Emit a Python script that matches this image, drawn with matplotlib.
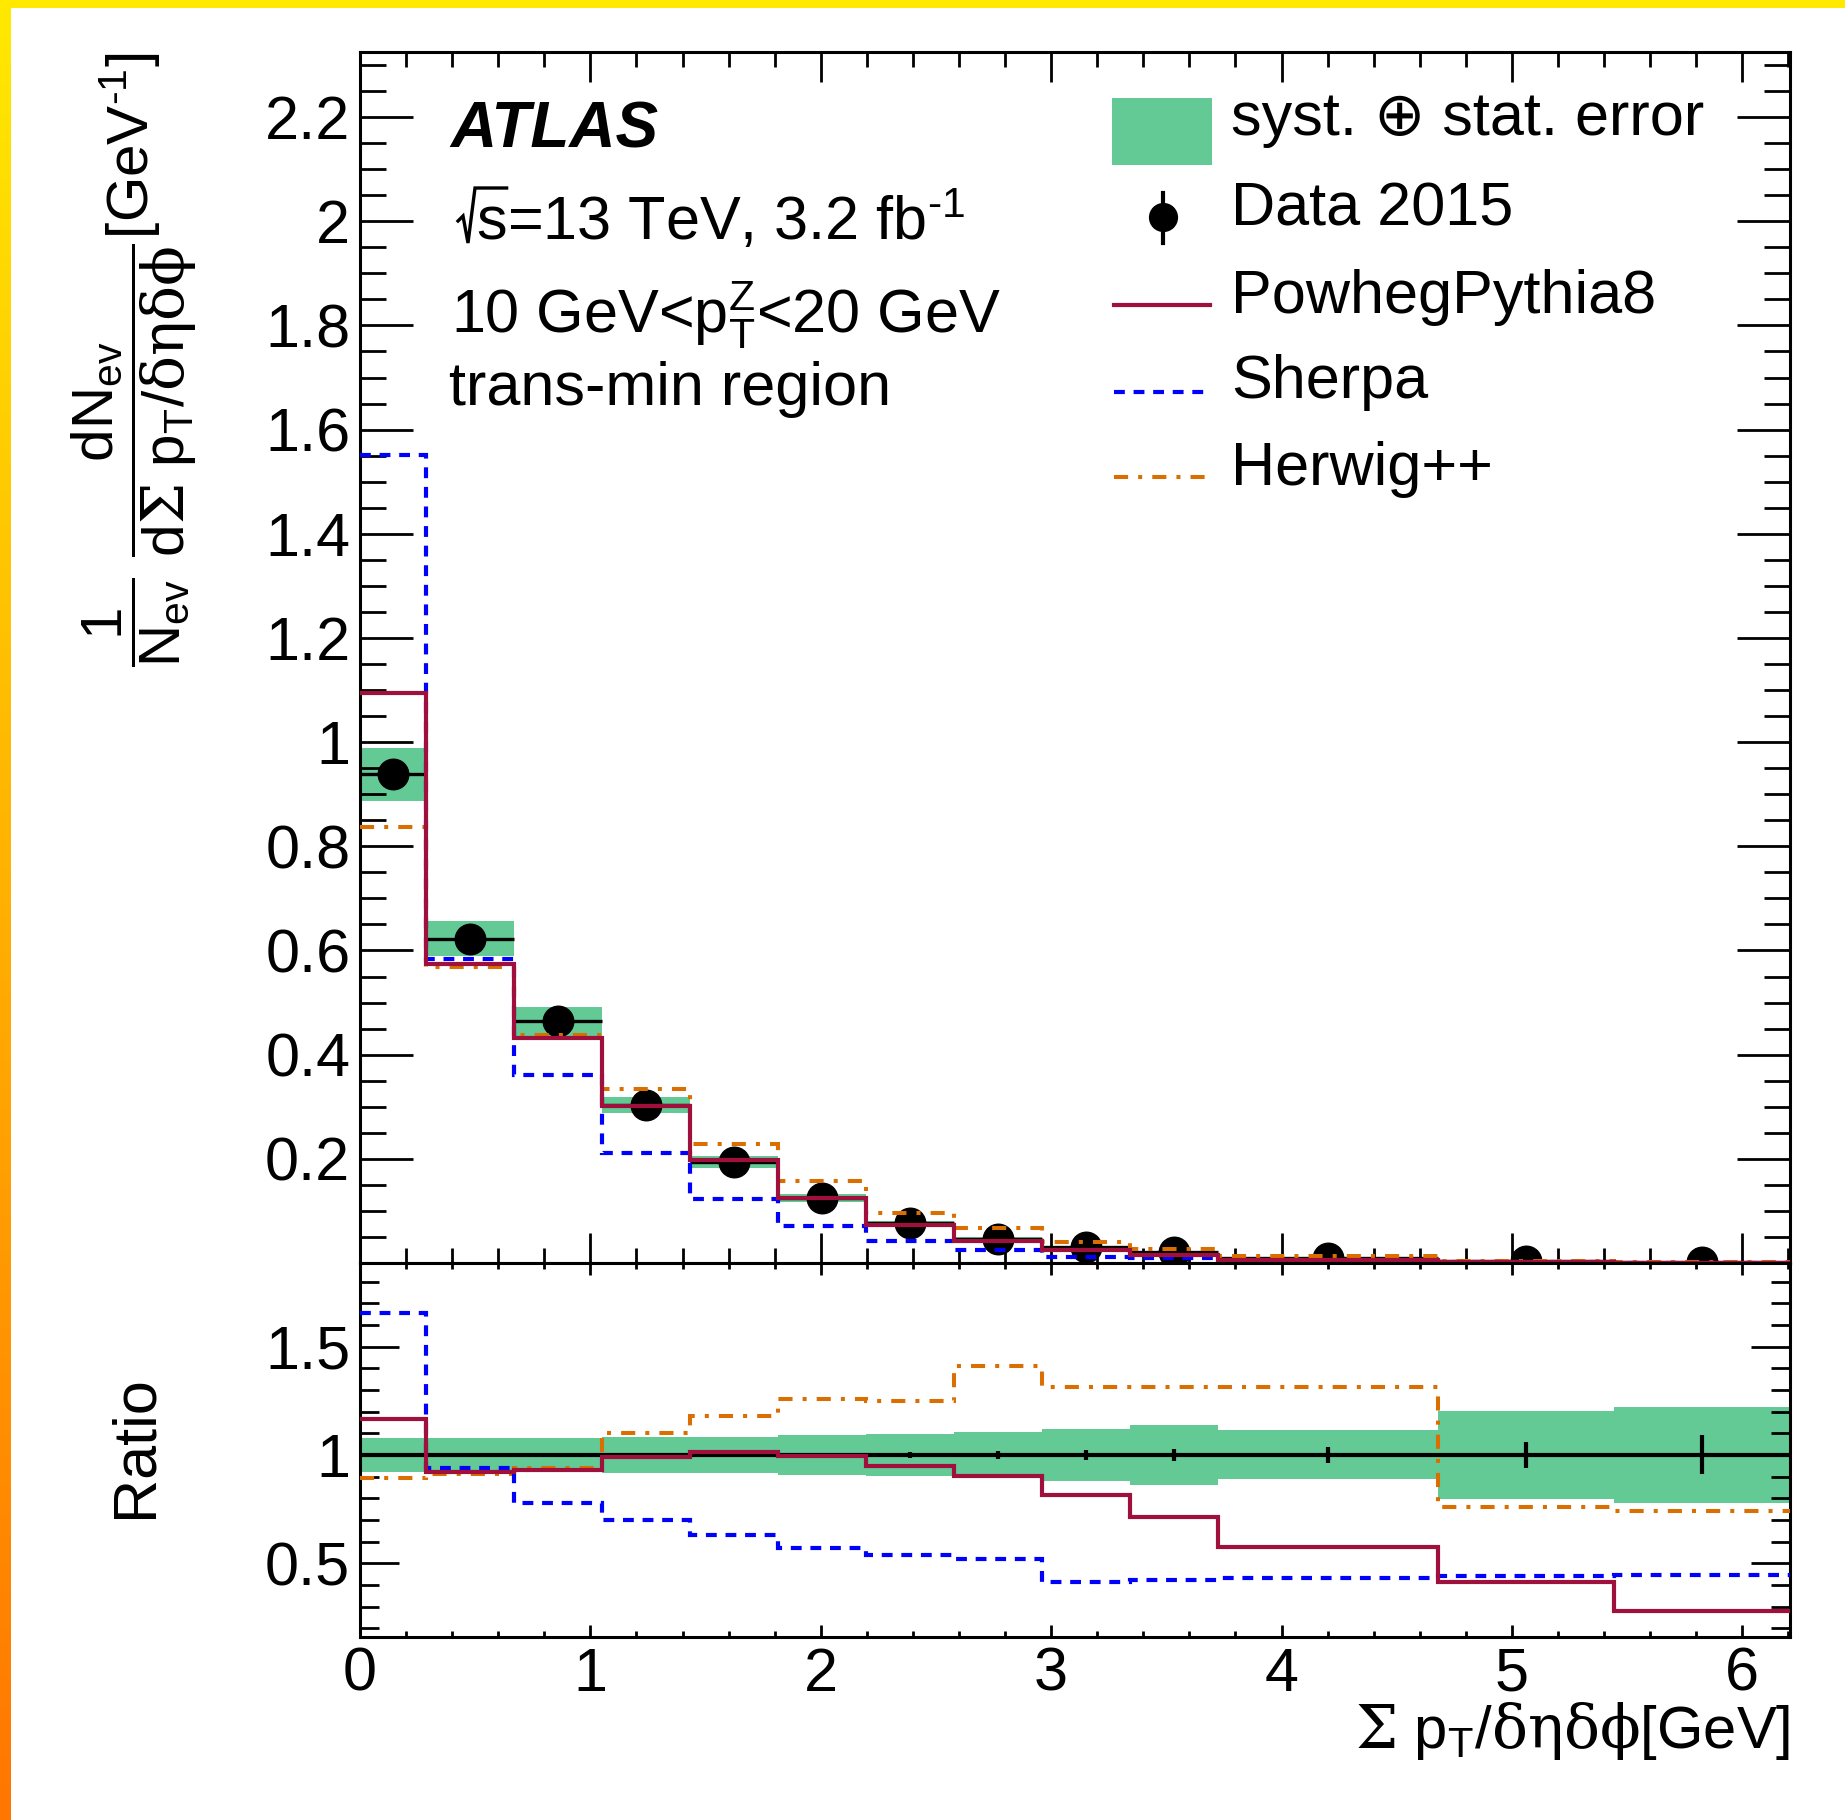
import numpy as np
import matplotlib
matplotlib.use("Agg")
import matplotlib.pyplot as plt
from matplotlib.patches import Rectangle
from matplotlib.lines import Line2D
from matplotlib.ticker import MultipleLocator, FuncFormatter

plt.rcParams["font.family"] = ["Liberation Sans", "DejaVu Sans"]
plt.rcParams["mathtext.fontset"] = "custom"
plt.rcParams["mathtext.rm"] = "Liberation Sans"
plt.rcParams["mathtext.it"] = "Liberation Sans:italic"
plt.rcParams["mathtext.bf"] = "Liberation Sans:bold"
plt.rcParams["mathtext.sf"] = "DejaVu Serif"   # Greek symbols in a serif face
plt.rcParams["mathtext.default"] = "regular"

# Sum pT / (deta dphi) bin edges [GeV]
bin_edges = [0.0, 0.286, 0.668, 1.050, 1.432, 1.814, 2.196, 2.578,
             2.960, 3.342, 3.724, 4.679, 5.443, 6.207]

# Unfolded data and predictions, 1/N dN/d(Sum pT/deta dphi)
data = [0.938, 0.623, 0.464, 0.303, 0.194, 0.125, 0.077, 0.047,
        0.030, 0.0205, 0.0102, 0.0045, 0.0020]
data_stat_rel = [0.005, 0.005, 0.005, 0.005, 0.006, 0.008, 0.015, 0.02,
                 0.025, 0.027, 0.035, 0.062, 0.09]
total_err_main = [0.051, 0.034, 0.0275, 0.0155, 0.011, 0.007, 0.0045,
                  0.003, 0.002, 0.0015, 0.0008, 0.0005, 0.0003]
total_err_ratio = [0.078, 0.078, 0.078, 0.082, 0.085, 0.091, 0.098,
                   0.108, 0.122, 0.138, 0.113, 0.204, 0.223]

powheg = [1.0937, 0.5732, 0.4320, 0.3006, 0.1969, 0.1244, 0.0732,
          0.04244, 0.02445, 0.01466, 0.005885, 0.001854, 0.000564]
sherpa = [1.5515, 0.5844, 0.3605, 0.2121, 0.1224, 0.0711, 0.04143,
          0.02435, 0.01245, 0.008672, 0.004396, 0.00198, 0.000892]
herwig = [0.8367, 0.5682, 0.4371, 0.3333, 0.2289, 0.1571, 0.09625,
          0.06627, 0.03945, 0.02696, 0.01341, 0.003429, 0.001486]

x_ticks = [0, 1, 2, 3, 4, 5, 6]

GREEN = "#63C995"
RED = "#A0103C"
BLUE = "#0000FF"
ORANGE = "#DB6E00"

W, H = 1845, 1820
fig = plt.figure(figsize=(W / 100, H / 100), dpi=100)
renderer = fig.canvas.get_renderer()


def fx(px):
    return px / W


def fy(py):
    return 1 - py / H


# coloured frame: yellow strip on top, yellow-to-orange strip on the left
top_strip = Rectangle((0, fy(7.5)), 1, 7.5 / H, transform=fig.transFigure,
                      color="#FFE900", lw=0, zorder=0)
fig.add_artist(top_strip)
ax_strip = fig.add_axes([0, 0, fx(11), 1])
grad = np.linspace(0, 1, 256)[:, None]
c_top = np.array([255, 233, 0]) / 255
c_bot = np.array([255, 118, 0]) / 255
img = c_top[None, None, :] * (1 - grad[..., None]) + c_bot[None, None, :] * grad[..., None]
ax_strip.imshow(img, aspect="auto", extent=[0, 1, 0, 1], origin="upper")
ax_strip.set_axis_off()

edges = np.array(bin_edges)
centers = 0.5 * (edges[:-1] + edges[1:])
half = 0.5 * np.diff(edges)
d = np.array(data)
emain = np.array(total_err_main)
eratio = np.array(total_err_ratio)
stat = np.array(data_stat_rel)
mc = {"powheg": np.array(powheg), "sherpa": np.array(sherpa), "herwig": np.array(herwig)}

styles = {
    "powheg": dict(color=RED, lw=3.0, ls="-"),
    "sherpa": dict(color=BLUE, lw=3.0, ls=(0, (2.6, 2.1))),
    "herwig": dict(color=ORANGE, lw=2.9, ls=(0, (3.5, 2.5, 1.0, 2.5))),
}

ax = fig.add_axes([fx(360), fy(1263), fx(1790) - fx(360), (1263 - 52) / H])
axr = fig.add_axes([fx(360), fy(1637), fx(1790) - fx(360), (1637 - 1263) / H])

# ---- main panel
ax.stairs(d + emain, edges, baseline=d - emain, fill=True, color=GREEN, lw=0, zorder=1)
ax.errorbar(centers, d, xerr=half, yerr=d * stat, fmt="o", ms=22, mfc="k",
            mec="k", color="k", elinewidth=2.4, capsize=0, zorder=3)
for key in ["herwig", "sherpa", "powheg"]:
    ax.stairs(mc[key], edges, baseline=None, zorder=4, **styles[key])

ax.set_xlim(0, edges[-1])
ax.set_ylim(0, 2.325)

# ---- ratio panel
axr.stairs(1 + eratio, edges, baseline=1 - eratio, fill=True, color=GREEN, lw=0, zorder=1)
axr.errorbar(centers, np.ones_like(d), xerr=half, yerr=stat, fmt="none",
             ecolor="k", elinewidth=3.0, capsize=0, zorder=3)
for key in ["herwig", "sherpa", "powheg"]:
    axr.stairs(mc[key] / d, edges, baseline=None, zorder=4, **styles[key])
axr.set_xlim(0, edges[-1])
axr.set_ylim(0.16, 1.886)

fmt_g = FuncFormatter(lambda v, p: "" if abs(v) < 1e-9 else f"{v:g}")

for a in (ax, axr):
    for s in a.spines.values():
        s.set_linewidth(2.2)
    a.tick_params(which="both", direction="in", top=True, right=True,
                  width=2.0, labelsize=44, colors="k")
    a.xaxis.set_major_locator(MultipleLocator(1))
    a.xaxis.set_minor_locator(MultipleLocator(0.2))

ax.yaxis.set_major_locator(MultipleLocator(0.2))
ax.yaxis.set_minor_locator(MultipleLocator(0.05))
ax.yaxis.set_major_formatter(fmt_g)
ax.tick_params(axis="y", which="major", length=38, pad=7)
ax.tick_params(axis="y", which="minor", length=19)
ax.tick_params(axis="x", which="major", length=21.6, labelbottom=False)
ax.tick_params(axis="x", which="minor", length=10.5)

axr.yaxis.set_major_locator(MultipleLocator(0.5))
axr.yaxis.set_minor_locator(MultipleLocator(0.1))
axr.yaxis.set_major_formatter(FuncFormatter(lambda v, p: f"{v:g}"))
axr.xaxis.set_major_formatter(FuncFormatter(lambda v, p: f"{v:g}"))
axr.set_xticks(x_ticks)
axr.tick_params(axis="y", which="major", length=28, pad=7)
axr.tick_params(axis="y", which="minor", length=14)
axr.tick_params(axis="x", which="major", length=8.6, pad=7)
axr.tick_params(axis="x", which="minor", length=4.3)

# ---- axis titles
ylab = (r"$\dfrac{1}{N_{ev}}\ \dfrac{dN_{ev}}{d\mathsf{Σ}\ p_{T}/\mathsf{δηδϕ}}$"
        r"[GeV$^{\text{-1}}$]")
fig.text(fx(134), fy(53), ylab, rotation=90, ha="center", va="top", fontsize=42)
fig.text(fx(136), fy(1447), "Ratio", rotation=90, ha="center", va="center", fontsize=44)
fig.text(fx(1790), fy(1748), r"$\mathsf{Σ}$ p$_{T}$/$\mathsf{δηδϕ}$[GeV]", ha="right",
         va="baseline", fontsize=43)

# ---- labels inside the main panel
fig.text(fx(450), fy(147), "ATLAS", fontsize=46, weight="bold", style="italic", va="baseline")

# sqrt(s) drawn as a radical stroke over the letter s
t_s = fig.text(fx(476), fy(240), "s", fontsize=44, va="baseline")
bb_s = t_s.get_window_extent(renderer)
fig.text(bb_s.x1 / W, fy(240), r"=13 TeV, 3.2 fb$^{\text{-1}}$", fontsize=44, va="baseline")
rad_x = [fx(458), fx(463), fx(468), fx(475), bb_s.x1 / W]
rad_y = [fy(221), fy(216), fy(243), fy(188), fy(188)]
fig.add_artist(Line2D(rad_x, rad_y, transform=fig.transFigure, color="k", lw=2.4,
                      solid_joinstyle="miter"))

fig.text(fx(451), fy(333), r"10 GeV<p$_{T}^{Z}$<20 GeV", fontsize=44, va="baseline")
fig.text(fx(449), fy(405), "trans-min region", fontsize=44, va="baseline")

# ---- legend
tf = fig.transFigure
fig.add_artist(Rectangle((fx(1112), fy(165)), fx(100), 67 / H, transform=tf,
                         color=GREEN, lw=0))
fig.add_artist(Line2D([fx(1163), fx(1163)], [fy(193), fy(243)], transform=tf,
                      color="k", lw=3))
fig.add_artist(Line2D([fx(1163)], [fy(217)], transform=tf, marker="o", ms=20,
                      color="k", ls="none"))
fig.add_artist(Line2D([fx(1114), fx(1210)], [fy(305), fy(305)], transform=tf,
                      **styles["powheg"]))
fig.add_artist(Line2D([fx(1114), fx(1206)], [fy(392), fy(392)], transform=tf,
                      **styles["sherpa"]))
fig.add_artist(Line2D([fx(1114), fx(1206)], [fy(477), fy(477)], transform=tf,
                      **styles["herwig"]))

legend_labels = ["syst. ⊕ stat. error", "Data 2015", "PowhegPythia8", "Sherpa", "Herwig++"]
legend_baselines = [135, 225, 313, 398, 485]
for lab, yb in zip(legend_labels, legend_baselines):
    fig.text(fx(1231), fy(yb), lab, fontsize=44, va="baseline")

fig.savefig("out.png", dpi=100, facecolor="white")
